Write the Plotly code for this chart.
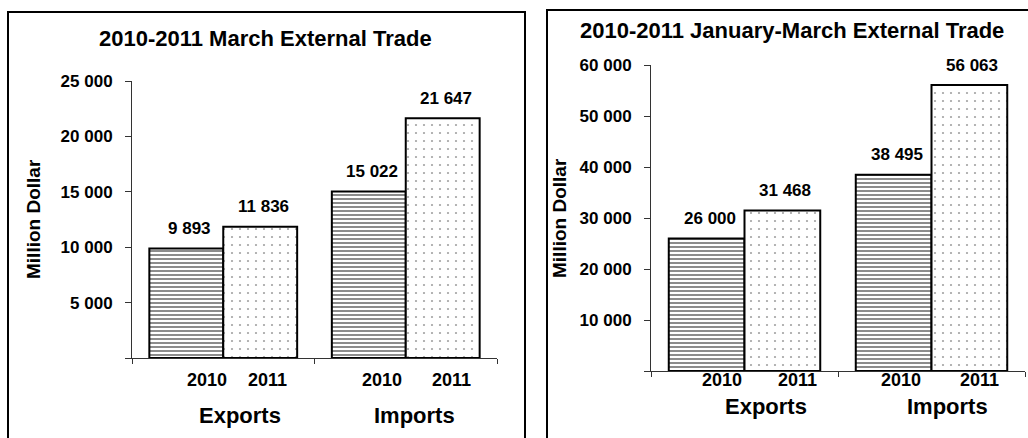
import plotly.graph_objects as go

# ---------------- data ----------------
categories = ["Exports", "Imports"]
years = ["2010", "2011"]

march_2010 = [9893, 15022]
march_2011 = [11836, 21647]
q1_2010 = [26000, 38495]
q1_2011 = [31468, 56063]

march_title = "2010-2011 March External Trade"
q1_title = "2010-2011 January-March External Trade"
y_title = "Million Dollar"

march_ticks = [0, 5000, 10000, 15000, 20000, 25000]
march_ticklabels = ["", "5 000", "10 000", "15 000", "20 000", "25 000"]
q1_ticks = [0, 10000, 20000, 30000, 40000, 50000, 60000]
q1_ticklabels = ["", "10 000", "20 000", "30 000", "40 000", "50 000", "60 000"]

# ---------------- styling ----------------
W, H = 1028, 438
FONT = "Liberation Sans, Arial, sans-serif"
BW = 0.405  # bar width in category units
AX = "#333333"


def px(x):
    return x / W


def py(y):
    return 1 - y / H


def fmt(v):
    return f"{v:,}".replace(",", " ")


panels = [
    dict(xa="x", ya="y", v2010=march_2010, v2011=march_2011, title=march_title,
         ticks=march_ticks, ticklabels=march_ticklabels, ymax=25000,
         xdom=[px(132), px(497)], ydom=[py(358), py(81)],
         title_xy=(265, 38), ytitle_xy=(33, 219), year_y=380, cat_y=415,
         year_shift=[[21, 7], [13, 9]], cat_shift=[17, 9]),
    dict(xa="x2", ya="y2", v2010=q1_2010, v2011=q1_2011, title=q1_title,
         ticks=q1_ticks, ticklabels=q1_ticklabels, ymax=60000,
         xdom=[px(651), px(1025)], ydom=[py(371), py(65)],
         title_xy=(792, 30), ytitle_xy=(560, 218), year_y=380, cat_y=406,
         year_shift=[[15, 15], [7, 10]], cat_shift=[21, 16]),
]

fig = go.Figure()
annotations = []
idx = list(range(len(categories)))

for p in panels:
    fig.add_trace(go.Bar(
        x=idx, y=p["v2010"], width=BW, offset=-BW,
        xaxis=p["xa"], yaxis=p["ya"], showlegend=False, hoverinfo="skip",
        marker=dict(color="white", line=dict(color="black", width=2),
                    pattern=dict(shape="-", fgcolor="black", bgcolor="white",
                                 size=4, solidity=0.45)),
    ))
    fig.add_trace(go.Bar(
        x=idx, y=p["v2011"], width=BW, offset=0,
        xaxis=p["xa"], yaxis=p["ya"], showlegend=False, hoverinfo="skip",
        marker=dict(color="white", line=dict(color="black", width=2),
                    pattern=dict(shape=".", fgcolor="#444444", bgcolor="white",
                                 size=8, solidity=0.06)),
    ))

    # title
    annotations.append(dict(text=p["title"], xref="paper", yref="paper",
                            x=px(p["title_xy"][0]), y=py(p["title_xy"][1]),
                            xanchor="center", yanchor="middle", showarrow=False,
                            font=dict(family=FONT, size=22, color="black", weight="bold")))
    # y title
    annotations.append(dict(text=y_title, xref="paper", yref="paper",
                            x=px(p["ytitle_xy"][0]), y=py(p["ytitle_xy"][1]),
                            xanchor="center", yanchor="middle", showarrow=False, textangle=-90,
                            font=dict(family=FONT, size=19, color="black", weight="bold")))
    for i, cat in enumerate(categories):
        vals = [p["v2010"][i], p["v2011"][i]]
        for j, yr in enumerate(years):
            xc = i - BW / 2 + j * BW
            annotations.append(dict(text=yr, xref=p["xa"], yref="paper", x=xc, y=py(p["year_y"]),
                                    xshift=p["year_shift"][i][j], xanchor="center", yanchor="middle",
                                    showarrow=False,
                                    font=dict(family=FONT, size=18, color="black", weight="bold")))
            annotations.append(dict(text=fmt(vals[j]), xref=p["xa"], yref=p["ya"], x=xc, y=vals[j],
                                    xshift=3, yshift=20, xanchor="center", yanchor="middle",
                                    showarrow=False,
                                    font=dict(family=FONT, size=17, color="black", weight="bold")))
        annotations.append(dict(text=cat, xref=p["xa"], yref="paper", x=i, y=py(p["cat_y"]),
                                xshift=p["cat_shift"][i], xanchor="center", yanchor="middle",
                                showarrow=False,
                                font=dict(family=FONT, size=22, color="black", weight="bold")))

axis_common = dict(showgrid=False, zeroline=False, showline=True, linecolor=AX, linewidth=1,
                   ticks="outside", tickcolor=AX, tickwidth=1, fixedrange=True, automargin=False)

layout_axes = {}
for k, p in enumerate(panels):
    sx = "" if k == 0 else str(k + 1)
    layout_axes["xaxis" + sx] = dict(axis_common, domain=p["xdom"], range=[-0.5, len(categories) - 0.5],
                                     tickvals=[c - 0.5 for c in range(len(categories) + 1)],
                                     showticklabels=False, ticklen=5, anchor=p["ya"])
    layout_axes["yaxis" + sx] = dict(axis_common, domain=p["ydom"], range=[0, p["ymax"]],
                                     tickvals=p["ticks"], ticktext=p["ticklabels"], ticklen=6,
                                     ticklabelstandoff=9, anchor=p["xa"],
                                     tickfont=dict(family=FONT, size=17, color="black", weight="bold"))

shapes = [
    dict(type="rect", xref="paper", yref="paper", x0=px(8), x1=px(525), y0=-0.1, y1=py(12),
         line=dict(color="black", width=2), fillcolor="rgba(0,0,0,0)", layer="below"),
    dict(type="rect", xref="paper", yref="paper", x0=px(547), x1=1.05, y0=-0.1, y1=py(10),
         line=dict(color="black", width=2), fillcolor="rgba(0,0,0,0)", layer="below"),
]

fig.update_layout(
    width=W, height=H, margin=dict(l=0, r=0, t=0, b=0, autoexpand=False),
    paper_bgcolor="white", plot_bgcolor="rgba(0,0,0,0)",
    barmode="overlay", annotations=annotations, shapes=shapes,
    font=dict(family=FONT, color="black"),
    **layout_axes,
)

fig.write_html("out.html", config={"displayModeBar": False},
               post_script="document.body.style.margin='0';document.body.style.overflow='hidden';")
